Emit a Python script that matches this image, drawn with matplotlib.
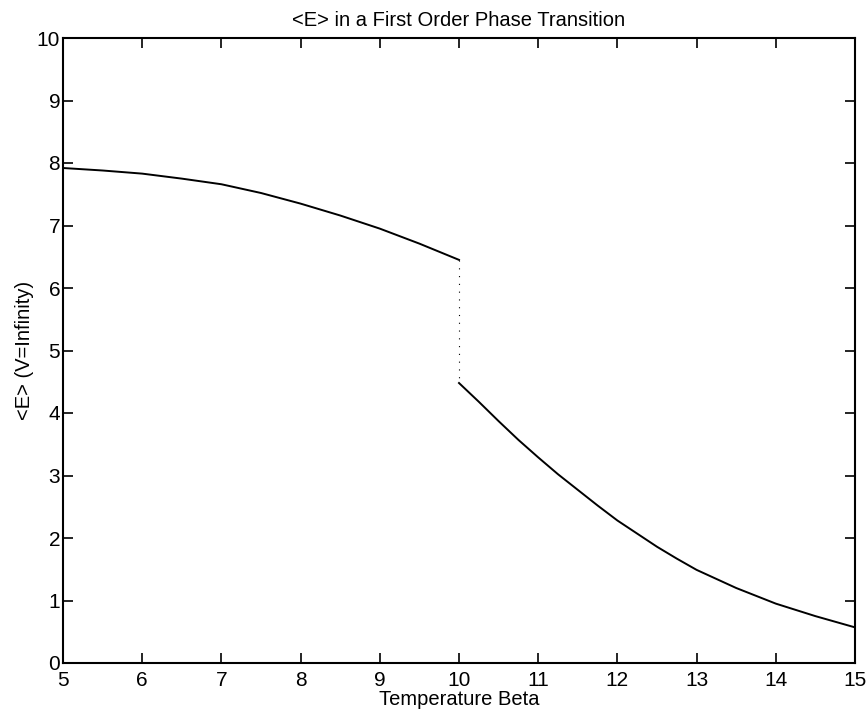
import matplotlib
matplotlib.use("Agg")
import matplotlib.pyplot as plt

plt.rcParams['font.family'] = ['Liberation Sans', 'DejaVu Sans']

# Low-temperature branch (beta from 5 up to the transition at 10)
beta_low = [5.0, 5.5, 6.0, 6.5, 7.0, 7.5, 8.0, 8.5, 9.0, 9.5, 10.0]
energy_low = [7.92, 7.88, 7.83, 7.75, 7.66, 7.52, 7.35, 7.16, 6.95, 6.71, 6.45]

# High-temperature branch (beta from the transition up to 15)
beta_high = [10.0, 10.25, 10.5, 10.75, 11.0, 11.25, 11.5, 11.75, 12.0,
             12.25, 12.5, 12.75, 13.0, 13.5, 14.0, 14.5, 15.0]
energy_high = [4.48, 4.18, 3.87, 3.57, 3.29, 3.02, 2.77, 2.52, 2.28,
               2.07, 1.86, 1.67, 1.49, 1.20, 0.95, 0.75, 0.57]

# Latent-heat jump at the critical beta
beta_c = 10.0

xticks = list(range(5, 16))
yticks = list(range(0, 11))

fig = plt.figure(figsize=(8.67, 7.17), dpi=100)
ax = fig.add_axes([63 / 867, 1 - 663 / 717, (855 - 63) / 867, (663 - 38) / 717])

ax.plot(beta_low, energy_low, color='black', lw=1.4)
ax.plot(beta_high, energy_high, color='black', lw=1.4)
ax.plot([beta_c, beta_c], [energy_low[-1], energy_high[0]], color='black',
        lw=0.8, linestyle=(0, (1, 6)))

ax.set_xlim(5, 15)
ax.set_ylim(0, 10)
ax.set_xticks(xticks)
ax.set_yticks(yticks)
ax.tick_params(direction='in', top=True, right=True, length=7, width=1.2,
               labelsize=15)
ax.tick_params(axis='x', pad=6)
ax.tick_params(axis='y', pad=2)
for s in ax.spines.values():
    s.set_linewidth(1.5)

ax.set_title('<E> in a First Order Phase Transition', fontsize=14.5, pad=9)
ax.set_xlabel('Temperature Beta', fontsize=14.5, labelpad=0)
ax.set_ylabel('<E> (V=Infinity)', fontsize=14.5, labelpad=2)

fig.savefig('out.png', dpi=100)
